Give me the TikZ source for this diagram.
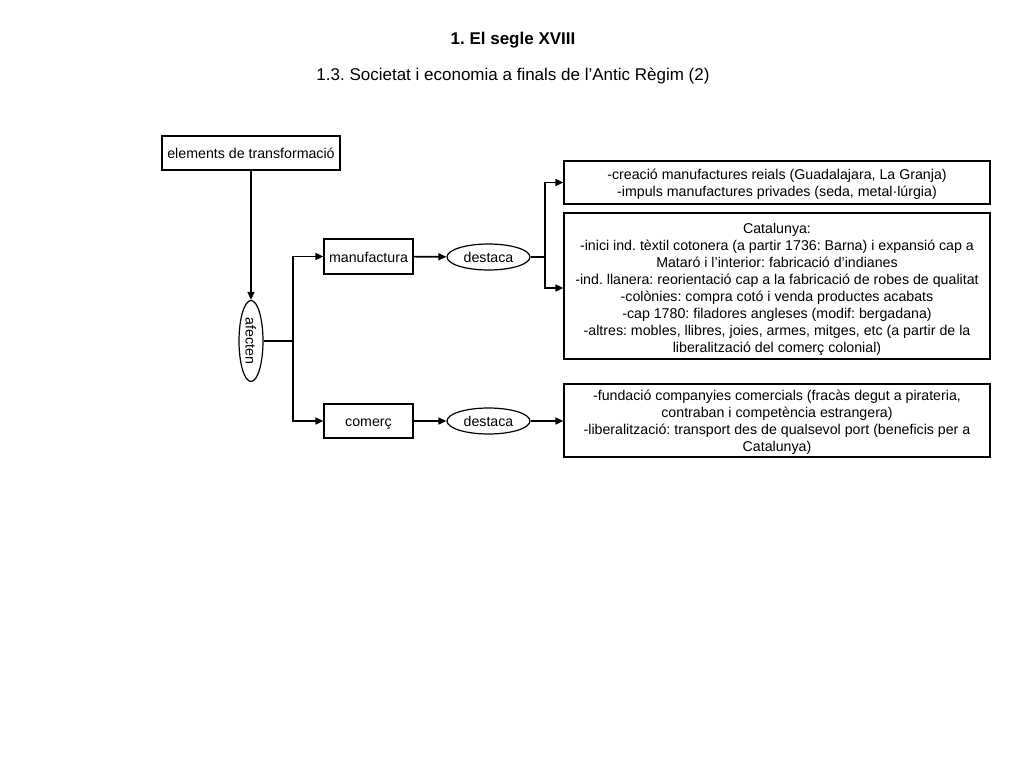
\documentclass[tikz,border=0pt]{standalone}
\usepackage{fontspec}
\setmainfont{Liberation Sans}
\usetikzlibrary{arrows.meta,shapes.geometric}
\frenchspacing
\begin{document}
\begin{tikzpicture}[x=1pt,y=-1pt,
  txt/.style={font=\fontsize{14.2}{17}\selectfont},
  box/.style={draw,line width=1.2pt,txt,inner sep=0pt,align=center},
  one/.style={text height=13pt,text depth=2pt},
  ell/.style={draw,ellipse,line width=1.2pt,txt,inner sep=0pt,one},
  multi/.style={txt,align=center,inner sep=0pt},
  conn/.style={line width=1.6pt},
  arr/.style={conn,-{Triangle[length=8pt,width=7pt]}}]
\useasboundingbox (0,0) rectangle (1024,768);
\node[font=\bfseries\fontsize{17}{20}\selectfont] (t1) at (513,40) {1. El segle XVIII};
\node[font=\fontsize{17}{20}\selectfont] (t2) at (513,76) {1.3. Societat i economia a finals de l’Antic Règim (2)};
\node[box,one,minimum width=178pt,minimum height=34pt] (elem) at (251,153) {elements de transformació};
\node[ell,minimum width=81pt,minimum height=24pt,rotate=-90] (afe) at (251,341) {afecten};
\node[box,one,minimum width=89pt,minimum height=35pt] (man) at (368.5,256.5) {manufactura};
\node[box,one,minimum width=89pt,minimum height=34pt] (com) at (368.5,421) {comerç};
\node[ell,minimum width=83pt,minimum height=26pt] (d1) at (488.5,257) {destaca};
\node[ell,minimum width=83pt,minimum height=26pt] (d2) at (488.5,421) {destaca};
\node[box,minimum width=426pt,minimum height=43pt] (b1) at (777,182.5) {};
\node[multi] (b1t) at ([yshift=-2pt]b1.center) {-creació manufactures reials (Guadalajara, La Granja)\\-impuls manufactures privades (seda, metal·lúrgia)};
\node[box,minimum width=426pt,minimum height=146pt] (b2) at (777,286) {};
\node[multi] (b2t) at ([yshift=-3.5pt]b2.center) {Catalunya:\\-inici ind. tèxtil cotonera (a partir 1736: Barna) i expansió cap a\\Mataró i l’interior: fabricació d’indianes\\-ind. llanera: reorientació cap a la fabricació de robes de qualitat\\-colònies: compra cotó i venda productes acabats\\-cap 1780: filadores angleses (modif: bergadana)\\-altres: mobles, llibres, joies, armes, mitges, etc (a partir de la\\liberalització del comerç colonial)};
\node[box,minimum width=426pt,minimum height=73pt] (b3) at (777,420.5) {};
\node[multi] (b3t) at ([yshift=-2pt]b3.center) {-fundació companyies comercials (fracàs degut a pirateria,\\contraban i competència estrangera)\\-liberalització: transport des de qualsevol port (beneficis per a\\Catalunya)};
\coordinate (j1) at (293,341);
\coordinate (j2) at (545,257);
\draw[arr] (elem.south) -- (afe.west);
\draw[conn] (afe.north) -- (j1);
\draw[arr] (j1) |- (man.west);
\draw[arr] (j1) |- (com.west);
\draw[arr] (man) -- (d1);
\draw[arr] (com) -- (d2);
\draw[conn] (d1.east) -- (j2);
\draw[arr] (j2) |- (b1.west);
\draw[arr] (j2) |- ([yshift=-2pt]b2.west);
\draw[arr] (d2) -- (b3.west |- d2);
\end{tikzpicture}
\end{document}
